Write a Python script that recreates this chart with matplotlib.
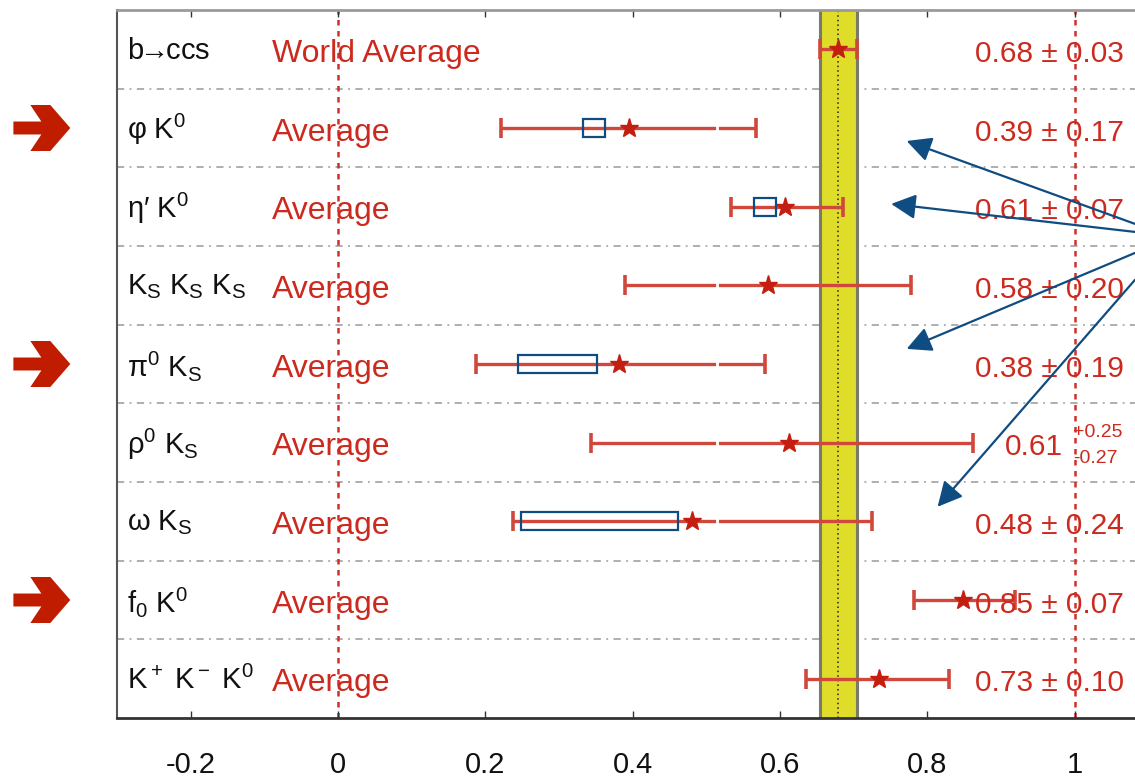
import numpy as np
import matplotlib.pyplot as plt
from matplotlib.patches import Rectangle, Polygon

plt.rcParams['font.family'] = ['Liberation Sans', 'DejaVu Sans']
plt.rcParams['mathtext.fontset'] = 'custom'
plt.rcParams['mathtext.rm'] = 'Liberation Sans'
plt.rcParams['mathtext.it'] = 'Liberation Sans'
plt.rcParams['mathtext.bf'] = 'Liberation Sans:bold'

RED = '#cc2a1e'
BLUE = '#0f4c81'

# one row per mode, top to bottom
modes = ['b$\\!\\!\\rightarrow\\!\\!$ccs', 'φ K$^0$', 'η′ K$^0$', 'K$_S$ K$_S$ K$_S$', 'π$^0$ K$_S$',
         'ρ$^0$ K$_S$', 'ω K$_S$', 'f$_0$ K$^0$', 'K$^+$ K$^-$ K$^0$']
avg_labels = ['World Average'] + ['Average'] * 8
values = [0.679, 0.395, 0.607, 0.584, 0.382, 0.612, 0.480, 0.849, 0.734]
err_lo = [0.025, 0.174, 0.074, 0.195, 0.195, 0.269, 0.243, 0.067, 0.098]
err_hi = [0.025, 0.173, 0.078, 0.194, 0.198, 0.250, 0.245, 0.070, 0.096]
value_texts = ['0.68 ± 0.03', '0.39 ± 0.17', '0.61 ± 0.07', '0.58 ± 0.20',
               '0.38 ± 0.19', None, '0.48 ± 0.24', '0.85 ± 0.07', '0.73 ± 0.10']
# blue boxes (row, low, high)
box_rows = [1, 2, 4, 6]
box_lo = [0.332, 0.565, 0.244, 0.249]
box_hi = [0.362, 0.595, 0.351, 0.461]
marked_rows = [1, 4, 7]
band_lo, band_hi = 0.655, 0.705

fig = plt.figure(figsize=(11.35, 7.8), dpi=100)
ax = fig.add_axes([117 / 1135, 1 - 718 / 780, 1 - 117 / 1135, 708 / 780])
ax.set_xlim(-0.3, 1.082)
ax.set_ylim(8.5, -0.5)

rows = np.arange(len(modes))

# world-average band
ax.axvspan(band_lo, band_hi, facecolor='#dfdc2a', edgecolor='none', zorder=1)
for xb in (band_lo, band_hi):
    ax.axvline(xb, color='#7a7a6a', lw=2.2, zorder=1.5)
ax.axvline(values[0], color='#222222', lw=1.1, ls=(0, (1, 2)), zorder=1.6)

# separators and reference lines
for yy in rows[:-1] + 0.5:
    ax.axhline(yy, color='#a8a8a8', lw=1.3, ls=(0, (4, 3, 1, 3)), zorder=0.5)
for xr in (0, 1):
    ax.axvline(xr, color='#d0302a', lw=1.8, ls=(0, (2.2, 2.2)), zorder=0.8)

ax.errorbar(values, rows, xerr=[err_lo, err_hi], fmt='none', ecolor='#d0483c',
            elinewidth=2.4, capsize=7, capthick=2.6, zorder=3)
ax.plot(values, rows, ls='none', marker='*', ms=14, color='#c41e10', zorder=4)

# small white break seen on the long bars
for r in rows:
    if values[r] - err_lo[r] < 0.515 < values[r] + err_hi[r]:
        ax.plot([0.515, 0.515], [r - 0.04, r + 0.04], color='white', lw=2, zorder=3.5)

for r, lo, hi in zip(box_rows, box_lo, box_hi):
    ax.add_patch(Rectangle((lo, r - 0.115), hi - lo, 0.23, fill=False,
                           edgecolor=BLUE, lw=1.6, zorder=5))

# texts
for r in rows:
    ax.text(-0.287, r + 0.02, modes[r], fontsize=21, color='#111111',
            ha='left', va='center', zorder=6)
    ax.text(-0.09, r + 0.06, avg_labels[r], fontsize=23, color=RED,
            ha='left', va='center', zorder=6)
    if value_texts[r] is not None:
        ax.text(0.865, r + 0.06, value_texts[r], fontsize=21.5, color=RED,
                ha='left', va='center', zorder=6)
ax.text(0.906, 5.06, '0.61', fontsize=21.5, color=RED, ha='left', va='center', zorder=6)
ax.text(0.998, 4.87, '+0.25', fontsize=14, color=RED, ha='left', va='center', zorder=6)
ax.text(0.998, 5.2, '-0.27', fontsize=14, color=RED, ha='left', va='center', zorder=6)

# red chevron arrows in the left margin (shape in pixels, mapped to data units)
px_x = 1 / 737.5
px_y = 1 / 78.7
shape = np.array([(12, -6.5), (40, -6.5), (29, -23), (49, -23), (69, 0),
                  (49, 23), (29, 23), (40, 6.5), (12, 6.5)])
for r in marked_rows:
    verts = np.column_stack([(shape[:, 0] - 337) * px_x, r + shape[:, 1] * px_y])
    ax.add_patch(Polygon(verts, closed=True, facecolor='#c01c00', edgecolor='none',
                         clip_on=False, zorder=6))

# blue pointer arrows
arrow_heads = [(0.772, 1.165), (0.751, 1.965), (0.772, 3.808), (0.814, 5.815)]
arrow_tails = [(1.082, 2.219), (1.082, 2.321), (1.082, 2.588), (1.082, 2.93)]
for head, tail in zip(arrow_heads, arrow_tails):
    ax.annotate('', xy=head, xytext=tail,
                arrowprops=dict(arrowstyle='-|>,head_length=0.75,head_width=0.38',
                                color=BLUE, lw=1.6, mutation_scale=20,
                                shrinkA=0, shrinkB=0),
                zorder=7, annotation_clip=False)

ax.set_yticks([])
ax.set_xticks([-0.2, 0, 0.2, 0.4, 0.6, 0.8, 1.0])
ax.set_xticklabels(['-0.2', '0', '0.2', '0.4', '0.6', '0.8', '1'])
ax.tick_params(axis='x', direction='in', length=5, width=1, top=True,
               labelsize=21, pad=24, colors='#333333', labelcolor='#111111')
ax.spines['right'].set_visible(False)
ax.spines['left'].set_color('#555555')
ax.spines['left'].set_linewidth(1.5)
ax.spines['top'].set_color('#9a9a9a')
ax.spines['top'].set_linewidth(2)
ax.spines['bottom'].set_color('#333333')
ax.spines['bottom'].set_linewidth(2)

fig.savefig('out.png', dpi=100)
plt.close(fig)
